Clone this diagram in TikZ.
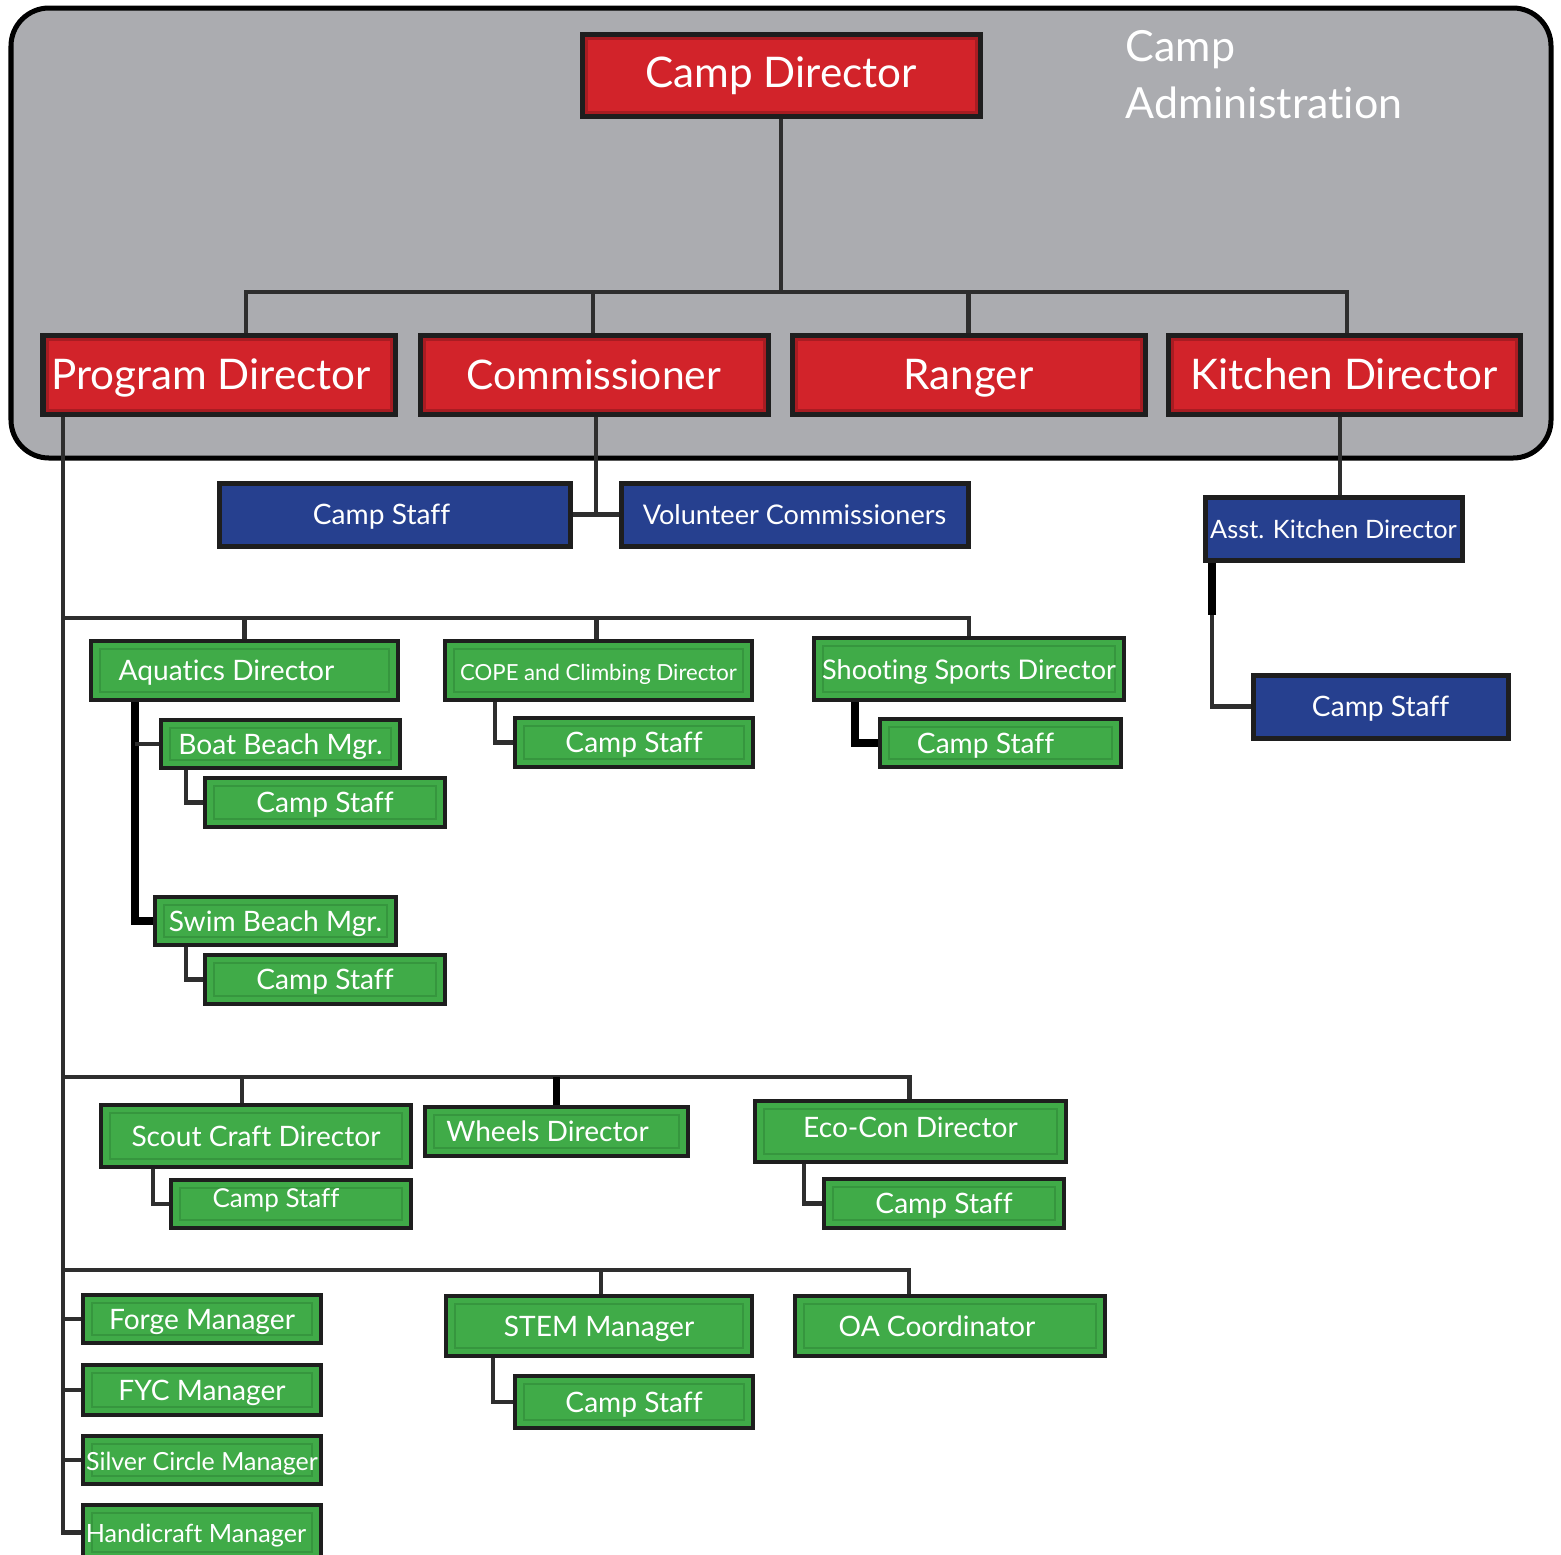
\documentclass[tikz,border=0pt]{standalone}
\usepackage{fontspec}
\setmainfont{Lato}[Ligatures=NoCommon]
\usetikzlibrary{calc}
\definecolor{admingray}{HTML}{ABACB0}
\definecolor{campred}{HTML}{D2232A}
\definecolor{darkred}{HTML}{A81C22}
\definecolor{campblue}{HTML}{26408F}
\definecolor{campgreen}{HTML}{40AB48}
\definecolor{innergreen}{HTML}{36963E}
\definecolor{boxedge}{HTML}{1E1E1E}
\definecolor{connc}{HTML}{2E2E2E}
\pgfdeclarelayer{bgl}
\pgfdeclarelayer{connl}
\pgfsetlayers{bgl,connl,main}
\newcommand\orgbox[7]{\node[#1, minimum width={(#5-#3)*0.01cm}, minimum height={(#6-#4)*0.01cm}] (#2) at ({(#3+#5)/2},{(#4+#6)/2}) {#7};}
\tikzset{
  basebox/.style={draw=boxedge, line width=0.05cm, inner sep=0pt, outer sep=0pt, text=white},
  redbox/.style={basebox, fill=campred, font=\fontsize{12pt}{14pt}\selectfont, text height=0.34cm, text depth=0.04cm,
    path picture={\draw[darkred, line width=0.03cm] ([shift={(0.04cm,0.04cm)}]path picture bounding box.south west) rectangle ([shift={(-0.04cm,-0.04cm)}]path picture bounding box.north east);}},
  bluebox/.style={basebox, fill=campblue, font=\fontsize{8pt}{10pt}\selectfont, text height=0.24cm, text depth=0.04cm},
  greenbox/.style={basebox, line width=0.045cm, fill=campgreen, font=\fontsize{8pt}{10pt}\selectfont, text height=0.24cm, text depth=0.04cm,
    path picture={\draw[innergreen, line width=0.015cm] ([shift={(0.09cm,0.08cm)}]path picture bounding box.south west) rectangle ([shift={(-0.09cm,-0.08cm)}]path picture bounding box.north east);}},
  conn/.style={draw=connc, line width=0.045cm},
  heavyconn/.style={draw=black, line width=0.075cm},
}
\begin{document}
\begin{tikzpicture}[x=0.01cm,y=-0.01cm]
\useasboundingbox (0,0) rectangle (1561,1554);
\clip (0,0) rectangle (1561,1554);
\begin{pgfonlayer}{bgl}
\fill[white] (0,0) rectangle (1561,1554);
\draw[line width=0.05cm, draw=black, fill=admingray, rounded corners=0.38cm] (11,8) rectangle (1551,458);
\end{pgfonlayer}

% administration
\orgbox{redbox, text height=0.28cm}{cd}{582}{34}{980}{116}{Camp Director}
\orgbox{redbox}{pd}{43}{335}{395}{414}{\hspace*{-0.16cm}Program Director}
\orgbox{redbox, font=\fontsize{11.6pt}{14pt}\selectfont}{com}{420}{335}{768}{414}{Commissioner}
\orgbox{redbox}{rng}{792}{335}{1145}{414}{Ranger}
\orgbox{redbox}{kd}{1168}{335}{1520}{414}{Kitchen Director}
\node[anchor=north west, text=white, align=left, inner sep=0pt,
  font=\fontsize{12.2pt}{16.2pt}\selectfont] (adm) at (1125,30) {Camp\\Administration};

% blue
\orgbox{bluebox}{cs1}{219}{483}{570}{546}{\hspace*{-0.26cm}Camp Staff}
\orgbox{bluebox, font=\fontsize{7.7pt}{10pt}\selectfont}{vc}{621}{483}{968}{546}{Volunteer Commissioners}
\orgbox{bluebox, font=\fontsize{7.2pt}{9pt}\selectfont}{akd}{1205}{497}{1462}{560}{Asst. Kitchen Director}
\orgbox{bluebox}{cs2}{1253}{675}{1508}{738}{Camp Staff}

% green row 1
\orgbox{greenbox}{aq}{91}{641}{398}{700}{\hspace*{-0.36cm}Aquatics Director}
\orgbox{greenbox, font=\fontsize{6.3pt}{8pt}\selectfont}{cope}{445}{641}{752}{700}{COPE and Climbing Director}
\orgbox{greenbox, font=\fontsize{7.7pt}{9pt}\selectfont}{shoot}{814}{638}{1124}{700}{Shooting Sports Director}
\orgbox{greenbox}{bbm}{161}{720}{400}{768}{Boat Beach Mgr.}
\orgbox{greenbox}{bcs}{205}{778}{445}{827}{Camp Staff}
\orgbox{greenbox}{copecs}{515}{718}{753}{767}{Camp Staff}
\orgbox{greenbox}{shootcs}{880}{719}{1121}{767}{\hspace*{-0.3cm}Camp Staff}
\orgbox{greenbox}{sbm}{155}{897}{396}{945}{Swim Beach Mgr.}
\orgbox{greenbox}{scs}{205}{955}{445}{1004}{Camp Staff}

% green row 2
\orgbox{greenbox}{scd}{101}{1105}{411}{1167}{Scout Craft Director}
\orgbox{greenbox, font=\fontsize{7.4pt}{9pt}\selectfont}{sccs}{171}{1180}{411}{1228}{\hspace*{-0.3cm}\raisebox{0.07cm}{Camp Staff}}
\orgbox{greenbox}{wd}{425}{1107}{688}{1156}{\hspace*{-0.18cm}Wheels Director}
\orgbox{greenbox}{eco}{755}{1101}{1066}{1162}{\raisebox{0.04cm}{Eco-Con Director}}
\orgbox{greenbox}{ecocs}{824}{1179}{1064}{1228}{Camp Staff}

% green row 3
\orgbox{greenbox}{stem}{446}{1296}{752}{1356}{STEM Manager}
\orgbox{greenbox}{stemcs}{515}{1376}{753}{1428}{Camp Staff}
\orgbox{greenbox}{oa}{795}{1296}{1105}{1356}{\hspace*{-0.26cm}OA Coordinator}
\orgbox{greenbox}{forge}{83}{1295}{321}{1343}{Forge Manager}
\orgbox{greenbox}{fyc}{83}{1365}{321}{1415}{FYC Manager}
\orgbox{greenbox, font=\fontsize{7.1pt}{9pt}\selectfont}{silver}{83}{1436}{321}{1484}{Silver Circle Manager}
\orgbox{greenbox, font=\fontsize{7.15pt}{9pt}\selectfont}{handi}{83}{1505}{321}{1560}{\hspace*{-0.12cm}Handicraft Manager}

\coordinate (bus1) at (781,292);
\coordinate (r1) at (63,618);
\coordinate (r2) at (63,1077);
\coordinate (r3) at (63,1270);
\coordinate (aqx) at ([xshift=0.44cm]aq.south west);

\begin{pgfonlayer}{connl}
% top
\draw[conn] (cd.south) -- (bus1);
\draw[conn] ([xshift=0.27cm]pd.north) |- (bus1) -| ([xshift=0.03cm]kd.north);
\draw[conn] ([xshift=-0.01cm]com.north) -- ([xshift=-0.01cm]com.north |- bus1);
\draw[conn] (rng.north) -- (rng.north |- bus1);
% commissioner
\draw[conn] ([xshift=0.02cm]com.south) -- ([xshift=0.02cm]com.south |- vc.west);
\draw[conn] (cs1.east) -- (vc.west);
% kitchen
\draw[conn] ([xshift=-0.04cm]kd.south) -- ([xshift=-0.04cm]kd.south |- akd.north);
\draw[conn] ([xshift=0.07cm]akd.south west) |- (cs2.west);
\draw[heavyconn] ([xshift=0.07cm]akd.south west) -- ([xshift=0.07cm,yshift=-0.55cm]akd.south west);
% program main bar
\draw[conn] ([xshift=0.2cm]pd.south west) |- (handi.west);
\draw[conn] (r1) -| (shoot.north);
\draw[conn] (aq.north) -- (aq.north |- r1);
\draw[conn] ([xshift=-0.02cm]cope.north) -- ([xshift=-0.02cm]cope.north |- r1);
\draw[heavyconn] (aqx) |- (sbm.west);
\draw[conn] (bbm.west) -- (aqx |- bbm.west);
\draw[conn] ([xshift=0.25cm]bbm.south west) |- (bcs.west);
\draw[conn] ([xshift=0.31cm]sbm.south west) |- (scs.west);
\draw[conn] ([xshift=0.5cm]cope.south west) |- (copecs.west);
\draw[heavyconn] ([xshift=0.41cm]shoot.south west) |- (shootcs.west);
% row 2
\draw[conn] (r2) -| ([xshift=-0.01cm]eco.north);
\draw[conn] ([xshift=-0.14cm]scd.north) -- ([xshift=-0.14cm]scd.north |- r2);
\draw[heavyconn] (wd.north) -- (wd.north |- r2);
\draw[conn] ([xshift=0.52cm]scd.south west) |- (sccs.west);
\draw[conn] ([xshift=0.49cm]eco.south west) |- (ecocs.west);
% row 3
\draw[conn] (r3) -| ([xshift=-0.41cm]oa.north);
\draw[conn] ([xshift=0.02cm]stem.north) -- ([xshift=0.02cm]stem.north |- r3);
\draw[conn] ([xshift=0.47cm]stem.south west) |- (stemcs.west);
\draw[conn] (forge.west) -- (forge.west -| r3);
\draw[conn] (fyc.west) -- (fyc.west -| r3);
\draw[conn] (silver.west) -- (silver.west -| r3);
\end{pgfonlayer}
\end{tikzpicture}
\end{document}
